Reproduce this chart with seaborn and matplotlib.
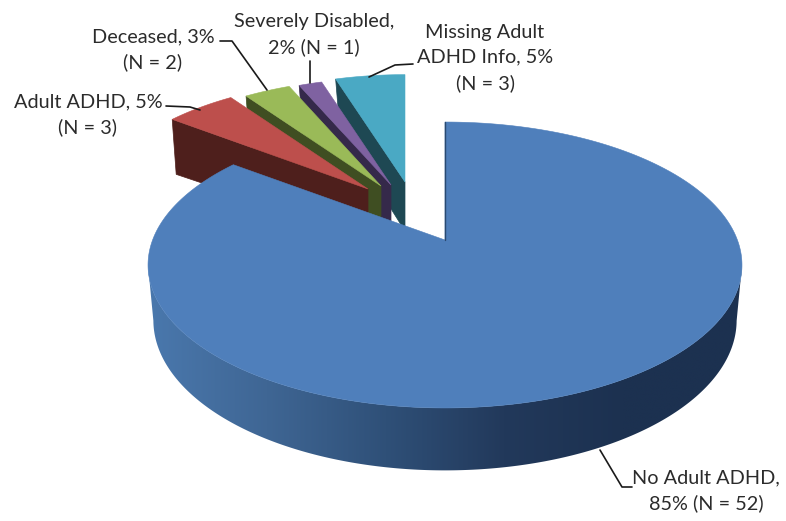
import numpy as np
import matplotlib
matplotlib.use("Agg")
import matplotlib.pyplot as plt
from matplotlib.colors import to_rgb
from matplotlib.patches import Polygon
import seaborn as sns

# ---- data ----
categories = ["No Adult ADHD", "Adult ADHD", "Deceased", "Severely Disabled", "Missing Adult ADHD Info"]
counts = [52, 3, 2, 1, 3]
labels = ["No Adult ADHD,\n85% (N = 52)", "Adult ADHD, 5%\n(N = 3)", "Deceased, 3%\n(N = 2)",
          "Severely Disabled,\n2% (N = 1)", "Missing Adult\nADHD Info, 5%\n(N = 3)"]

# ---- style / layout ----
top_colors = ["#4f7fbb", "#bd4f4c", "#9aba58", "#7f62a1", "#4aa9c4"]
wall_colors = ["#2f5078", "#4e1f1c", "#3f4e22", "#35294a", "#1e4853"]
apex = [(445, 240), (368, 189), (381, 186), (391, 185), (405, 182)]
scale = [1.0, 0.925, 0.91, 0.91, 0.91]
corner_depth = [0, 55, 50, 48, 48]
draw_order = [4, 3, 2, 1, 0]
RX, RY, PERSP, DEPTH, BOTTOM_SHRINK = 292.4, 138.6, 0.1748, 54, 0.982
label_pos = [(706, 491), (88, 115), (153, 50), (314, 35), (485, 58)]
leaders = [[(600, 450), (622, 487), (632, 487)],
           [(166, 106), (190, 107), (200, 110)],
           [(220, 41), (232, 41), (267, 90)],
           [(310, 61), (310, 83)],
           [(413, 64), (395, 65), (369, 77)]]

sns.set_theme(style="white")
plt.rcParams["font.family"] = ["Lato", "DejaVu Sans"]

fig = plt.figure(figsize=(7.86, 5.21), dpi=100)
ax = fig.add_axes([0, 0, 1, 1])

# slice angles come from the library's pie layout
wedges, _ = ax.pie(counts, startangle=90, counterclock=False, radius=1)
spans = []
for w in wedges:
    spans.append((w.theta1, w.theta2))
    w.set_visible(False)


def project(theta_deg, r, center, s=1.0, lower=False):
    t = np.radians(theta_deg)
    x, y = r * np.cos(t), r * np.sin(t)
    p = 1 / (1 + PERSP * y)
    k = BOTTOM_SHRINK if lower else 1.0
    sx = center[0] + s * k * RX * x * p
    sy = center[1] - s * k * RY * y * p + (DEPTH * p * s if lower else 0)
    return sx, sy


wall_grad = sns.blend_palette(["#4a78ad", "#3f6694", "#2f5078", "#22395b", "#1c3150", "#1c3150"], 256)
grad_img = np.array([[to_rgb(c) for c in wall_grad]])

for i in draw_order:
    c, s = apex[i], scale[i]
    t1, t2 = spans[i]
    lo, hi = min(t1, t2), max(t1, t2)
    arc = np.linspace(hi, lo, max(int((hi - lo) * 2), 12))
    tx, ty = project(arc, 1.0, c, s)
    z = 2 + draw_order.index(i)

    if i == 0:
        # front rim between the two widest points, filled with a horizontal gradient
        a, b = sorted((int(np.argmax(tx)), int(np.argmin(tx))))
        front = arc[a:b + 1]
        fx, fy = project(front, 1.0, c, s)
        bx, by = project(front, 1.0, c, s, lower=True)
        poly = Polygon(np.c_[np.r_[fx, bx[::-1]], np.r_[fy, by[::-1]]], closed=True,
                       facecolor="none", edgecolor="none", transform=ax.transData)
        ax.add_patch(poly)
        im = ax.imshow(grad_img, extent=(148, 742, 480, 240), aspect="auto", zorder=z,
                       interpolation="bilinear")
        im.set_clip_path(poly)
    else:
        # exposed cut face on the far (left) side of the slice
        k = np.argmax(np.abs(tx - c[0]))
        ax.fill([tx[k], c[0], c[0], tx[k] + 4], [ty[k], c[1], c[1] + DEPTH * s, ty[k] + corner_depth[i]],
                facecolor=wall_colors[i], edgecolor=wall_colors[i], lw=0.5, zorder=z)

    ax.fill(np.r_[c[0], tx], np.r_[c[1], ty], facecolor=top_colors[i], edgecolor=top_colors[i],
            lw=0.4, zorder=z + 0.5)

ax.set_aspect("auto")
ax.set_xlim(0, 786)
ax.set_ylim(521, 0)
ax.axis("off")

# thin dark edge on the blue slice's cut
ex, ey = project(90, 1.0, apex[0])
ax.plot([ex, apex[0][0]], [ey, apex[0][1]], color="#2a4a70", lw=1.0, zorder=9)

for i, name in enumerate(categories):
    ax.text(label_pos[i][0], label_pos[i][1], labels[i], ha="center", va="center",
            fontsize=14.3, color="#2b2b2b", linespacing=1.55, zorder=10, gid=name)
    pts = np.array(leaders[i])
    ax.plot(pts[:, 0], pts[:, 1], color="#1a1a1a", lw=1.2, zorder=10)

fig.savefig("out.png", dpi=100, facecolor="white")
